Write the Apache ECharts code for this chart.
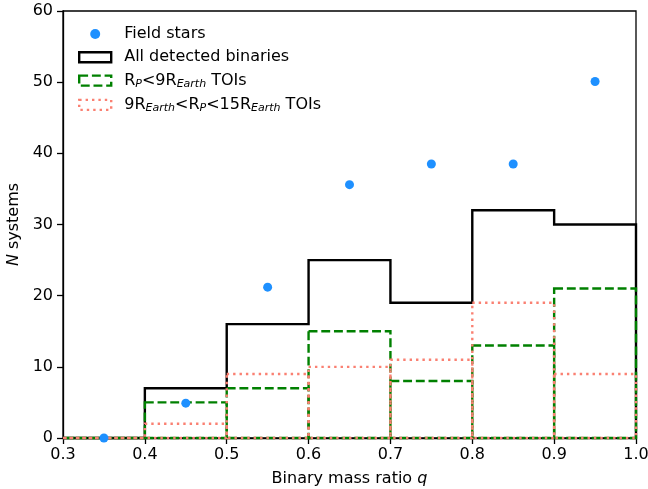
<!DOCTYPE html>
<html>
<head>
<meta charset="utf-8">
<script src="https://cdn.jsdelivr.net/npm/echarts@6/dist/echarts.min.js"></script>
<style>html,body{margin:0;padding:0;background:#fff}#c{width:648px;height:489px}</style>
</head>
<body>
<div id="c"></div>
<script>
// ---- data ----
const binEdges = [0.3, 0.4, 0.5, 0.6, 0.7, 0.8, 0.9, 1.0];
const fieldStarQ = [0.35, 0.45, 0.55, 0.65, 0.75, 0.85, 0.95];
const fieldStarN = [0, 4.9, 21.2, 35.6, 38.5, 38.5, 50.1];
const allBinaries = [0, 7, 16, 25, 19, 32, 30];
const smallTOIs = [0, 5, 7, 15, 8, 13, 21];
const largeTOIs = [0, 2, 9, 10, 11, 19, 9];
const xTicks = [0.3, 0.4, 0.5, 0.6, 0.7, 0.8, 0.9, 1.0];
const yTicks = [0, 10, 20, 30, 40, 50, 60];

const FONT = 'DejaVu Sans';
const LW = 2.4;

// step outline for the black histogram
const stepPts = [[binEdges[0], 0]];
allBinaries.forEach((c, i) => {
  stepPts.push([binEdges[i], c]);
  stepPts.push([binEdges[i + 1], c]);
});
stepPts.push([binEdges[binEdges.length - 1], 0]);

function barData(counts) {
  return counts.map((c, i) => [binEdges[i], binEdges[i + 1], c]);
}
function rectOutline(color, dash) {
  return function (params, api) {
    const p0 = api.coord([api.value(0), 0]);
    const p1 = api.coord([api.value(1), api.value(2)]);
    return {
      type: 'rect',
      shape: { x: p0[0], y: p1[1], width: p1[0] - p0[0], height: p0[1] - p1[1] },
      style: { fill: 'none', stroke: color, lineWidth: LW, lineDash: dash, lineCap: 'butt' }
    };
  };
}

const names = ['Field stars', 'All detected binaries', 'small', 'large'];
const legendText = {
  'Field stars': '{n|Field stars}',
  'All detected binaries': '{n|All detected binaries}',
  'small': '{n|R}{s|P}{n|<9R}{s|Earth}{n| TOIs}',
  'large': '{n|9R}{s|Earth}{n|<R}{s|P}{n|<15R}{s|Earth}{n| TOIs}'
};

const chart = echarts.init(document.getElementById('c'), null, { renderer: 'canvas' });
chart.setOption({
  animation: false,
  backgroundColor: '#fff',
  grid: { left: 63, right: 12, top: 11, bottom: 51, containLabel: false, outerBoundsMode: 'none',
    show: true, borderColor: '#000', borderWidth: 1.3, backgroundColor: 'transparent' },
  legend: {
    orient: 'vertical', left: 73, top: 21, padding: 5, itemWidth: 32, itemHeight: 10, itemGap: 7.3,
    textStyle: {
      fontFamily: FONT, fontSize: 16, color: '#000', padding: [0, 0, 0, 8],
      rich: {
        n: { fontFamily: FONT, fontSize: 16, color: '#000', lineHeight: 18 },
        s: { fontFamily: FONT, fontSize: 11, fontStyle: 'italic', color: '#000', lineHeight: 11, verticalAlign: 'bottom' }
      }
    },
    formatter: n => legendText[n],
    data: [
      { name: names[0], icon: 'circle' },
      { name: names[1], icon: 'rect', itemStyle: { color: 'rgba(0,0,0,0)', borderColor: '#000', borderWidth: LW, borderType: 'solid' } },
      { name: names[2], icon: 'rect', itemStyle: { color: 'rgba(0,0,0,0)', borderColor: '#008000', borderWidth: LW, borderType: [8.9, 3.8] } },
      { name: names[3], icon: 'rect', itemStyle: { color: 'rgba(0,0,0,0)', borderColor: '#FA8072', borderWidth: LW, borderType: [2.4, 4] } }
    ]
  },
  xAxis: {
    type: 'value', min: 0.3, max: 1.0, interval: 0.1,
    name: 'Binary mass ratio {i|q}', nameLocation: 'middle', nameGap: 33,
    nameTextStyle: { fontFamily: FONT, fontSize: 16, color: '#000',
      rich: { i: { fontFamily: FONT, fontSize: 16, fontStyle: 'italic', color: '#000' } } },
    axisLine: { show: true, onZero: false, lineStyle: { color: '#000', width: 1.3 } },
    axisTick: { show: true, inside: false, length: 6, lineStyle: { color: '#000', width: 1.3 } },
    axisLabel: { fontFamily: FONT, fontSize: 16, color: '#000', margin: 9, formatter: v => v.toFixed(1) },
    splitLine: { show: false }
  },
  yAxis: {
    type: 'value', min: 0, max: 60, interval: 10,
    name: '{i|N} systems', nameLocation: 'middle', nameGap: 39, nameRotate: 90,
    nameTextStyle: { fontFamily: FONT, fontSize: 16, color: '#000',
      rich: { i: { fontFamily: FONT, fontSize: 16, fontStyle: 'italic', color: '#000' } } },
    axisLine: { show: true, lineStyle: { color: '#000', width: 1.3 } },
    axisTick: { show: true, inside: false, length: 6, lineStyle: { color: '#000', width: 1.3 } },
    axisLabel: { fontFamily: FONT, fontSize: 16, color: '#000', margin: 10 },
    splitLine: { show: false }
  },
  series: [
    {
      name: names[0], type: 'scatter', symbol: 'circle', symbolSize: 9, z: 10,
      itemStyle: { color: '#1E90FF', opacity: 1 },
      data: fieldStarQ.map((q, i) => [q, fieldStarN[i]])
    },
    {
      name: names[1], type: 'line', symbol: 'none', clip: false, z: 3,
      lineStyle: { color: '#000', width: LW, join: 'miter' },
      itemStyle: { color: '#000' },
      data: stepPts
    },
    {
      name: names[2], type: 'custom', clip: false, z: 4,
      itemStyle: { color: '#008000' },
      renderItem: rectOutline('#008000', [8.9, 3.8]),
      data: barData(smallTOIs)
    },
    {
      name: names[3], type: 'custom', clip: false, z: 5,
      itemStyle: { color: '#FA8072' },
      renderItem: rectOutline('#FA8072', [2.4, 4]),
      data: barData(largeTOIs)
    }
  ]
});
</script>
</body>
</html>
